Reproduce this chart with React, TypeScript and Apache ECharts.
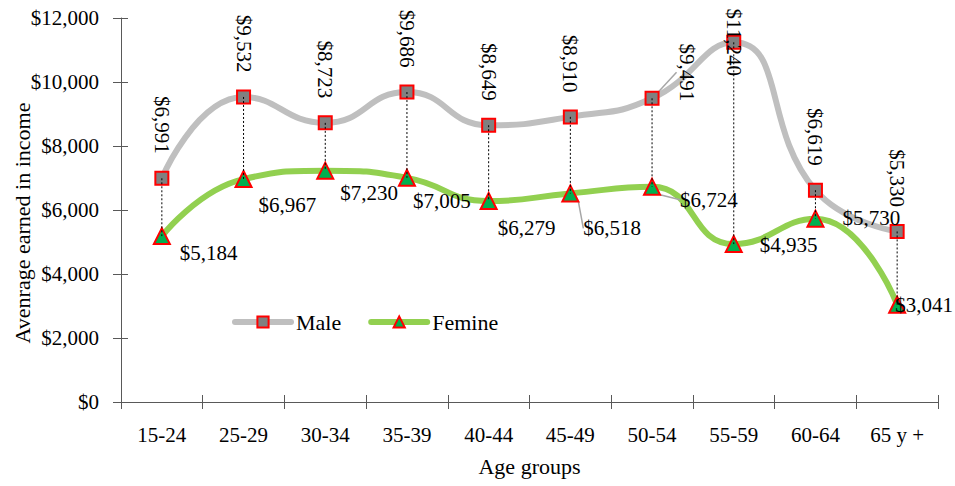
import React, { useEffect, useRef } from "react";
import * as echarts from "echarts";

const categories = ["15-24", "25-29", "30-34", "35-39", "40-44", "45-49", "50-54", "55-59", "60-64", "65 y +"];
const maleValues = [6991, 9532, 8723, 9686, 8649, 8910, 9491, 11240, 6619, 5330];
const femaleValues = [5184, 6967, 7230, 7005, 6279, 6518, 6724, 4935, 5730, 3041];
const yTicks = { min: 0, max: 12000, interval: 2000 };

// label placement (style, not data)
const femaleLabelOffsets: [number, number][] = [
  [18, 17], [15, 26], [15, 22], [6, 23], [9, 27], [13, 35], [28, 13], [26, 1], [27, -1], [-2, 0],
];
const femaleLeader = [false, false, false, false, false, true, true, false, false, false];

const FONT = "Liberation Serif";
const money = (v: number) => "$" + v.toLocaleString("en-US");

export default function App() {
  const ref = useRef<HTMLDivElement>(null);
  useEffect(() => {
    if (!ref.current) return;
    const chart = echarts.init(ref.current, undefined, { renderer: "svg" });

    const maleData = maleValues.map((v, i) => {
      if (i === 6) {
        return {
          value: v,
          label: {
            position: "inside",
            align: "center",
            verticalAlign: "middle",
            offset: [-26, -35],
          },
          labelLine: { show: true, lineStyle: { color: "#A6A6A6", width: 1.5 } },
        };
      }
      if (i === 7) {
        return {
          value: v,
          label: { position: "inside", align: "center", verticalAlign: "middle", offset: [0, 0] },
        };
      }
      return { value: v };
    });

    const femaleData = femaleValues.map((v, i) => ({
      value: v,
      label: { offset: femaleLabelOffsets[i] },
      labelLine: femaleLeader[i]
        ? { show: true, lineStyle: { color: "#A6A6A6", width: 1.5 } }
        : { show: false },
    }));

    const dropData = maleValues.map((v, i) => [i, v, femaleValues[i]]);

    chart.setOption({
      animation: false,
      textStyle: { fontFamily: FONT },
      grid: { left: 121, right: 17, top: 18, bottom: 84, containLabel: false, outerBoundsMode: "none" },
      legend: {
        left: 227,
        top: 306,
        itemWidth: 56,
        itemHeight: 14,
        itemGap: 27,
        data: ["Male", "Femine"],
        textStyle: { fontFamily: FONT, fontSize: 22, color: "#000" },
        lineStyle: { width: 6, cap: "round" },
      },
      xAxis: [
        {
          type: "category",
          data: categories,
          boundaryGap: true,
          name: "Age groups",
          nameLocation: "middle",
          nameGap: 53,
          nameMoveOverlap: false,
          nameTextStyle: { fontFamily: FONT, fontSize: 22, color: "#000" },
          axisLine: { lineStyle: { color: "#595959", width: 1 } },
          axisTick: { show: true, inside: false, length: 7, alignWithLabel: false, lineStyle: { color: "#595959" } },
          axisLabel: { fontFamily: FONT, fontSize: 21, color: "#000", margin: 22, interval: 0 },
          splitLine: { show: false },
        },
        {
          type: "category",
          data: categories,
          boundaryGap: true,
          position: "bottom",
          axisLine: { show: false },
          axisTick: { show: true, inside: true, length: 7, lineStyle: { color: "#595959" } },
          axisLabel: { show: false },
          splitLine: { show: false },
        },
      ],
      yAxis: [
        {
          type: "value",
          ...yTicks,
          name: "Avenrage earned in income",
          nameLocation: "middle",
          nameGap: 88,
          nameMoveOverlap: false,
          nameTextStyle: { fontFamily: FONT, fontSize: 22, color: "#000", padding: [0, 26, 0, 0] },
          axisLine: { show: true, lineStyle: { color: "#595959", width: 1 } },
          axisTick: { show: true, inside: false, length: 8, lineStyle: { color: "#595959" } },
          axisLabel: { fontFamily: FONT, fontSize: 21, color: "#000", margin: 22, formatter: (v: number) => money(v) },
          splitLine: { show: false },
        },
        {
          type: "value",
          ...yTicks,
          position: "left",
          axisLine: { show: false },
          axisTick: { show: true, inside: true, length: 7, lineStyle: { color: "#595959" } },
          axisLabel: { show: false },
          splitLine: { show: false },
        },
      ],
      series: [
        {
          name: "Male",
          type: "line",
          smooth: true,
          data: maleData,
          symbol: "rect",
          symbolSize: 13,
          z: 3,
          lineStyle: { color: "#BFBFBF", width: 6 },
          itemStyle: { color: "#808080", borderColor: "#FF0000", borderWidth: 2 },
          label: {
            show: true,
            position: "top",
            distance: 17,
            rotate: -90,
            align: "right",
            verticalAlign: "middle",
            fontFamily: FONT,
            fontSize: 21,
            color: "#000",
            formatter: (p: any) => money(p.value),
          },
        },
        {
          name: "Femine",
          type: "line",
          smooth: true,
          data: femaleData,
          symbol: "triangle",
          symbolSize: 16,
          z: 3,
          lineStyle: { color: "#92D050", width: 6 },
          itemStyle: { color: "#00B050", borderColor: "#FF0000", borderWidth: 2 },
          label: {
            show: true,
            position: "inside",
            align: "left",
            verticalAlign: "middle",
            fontFamily: FONT,
            fontSize: 21,
            color: "#000",
            formatter: (p: any) => money(p.value),
          },
        },
        {
          name: "drop",
          type: "custom",
          z: 5,
          silent: true,
          data: dropData,
          encode: { x: 0, y: [1, 2] },
          renderItem: (params: any, api: any) => {
            const top = api.coord([api.value(0), api.value(1)]);
            const bot = api.coord([api.value(0), api.value(2)]);
            return {
              type: "line",
              shape: { x1: top[0], y1: top[1], x2: bot[0], y2: bot[1] },
              style: { stroke: "#000", lineWidth: 1, lineDash: [2, 2] },
            };
          },
        },
      ],
    });
    return () => chart.dispose();
  }, []);
  return <div ref={ref} style={{ width: 955, height: 486, position: "absolute", left: 0, top: 0 }} />;
}
